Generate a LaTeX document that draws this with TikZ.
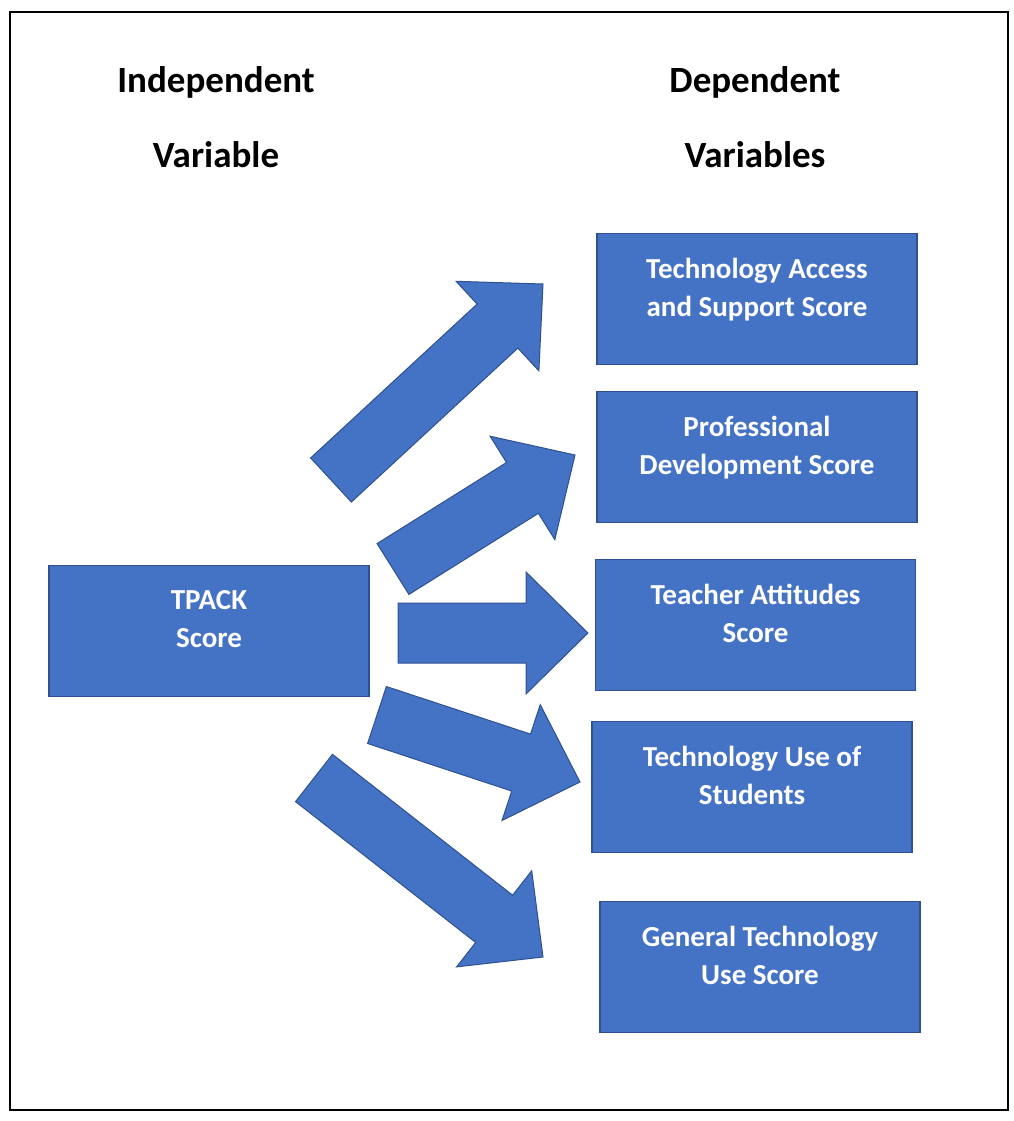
\documentclass[tikz,border=0pt]{standalone}
\usepackage{fontspec}
\setmainfont{Carlito}
\usetikzlibrary{calc}
\definecolor{boxblue}{HTML}{4472C4}
\definecolor{edgeblue}{HTML}{2F528F}
\newcommand\blockarr[2]{%
  \coordinate (#1b) at ($(#2)!62pt!(#1)$);
  \draw[blockarrow] ($(#1)!30pt!90:(#2)$) -- ($(#1b)!30pt!90:(#2)$) -- ($(#1b)!61pt!90:(#2)$)
    -- (#2) -- ($(#1b)!61pt!-90:(#2)$) -- ($(#1b)!30pt!-90:(#2)$) -- ($(#1)!30pt!-90:(#2)$) -- cycle;}
\begin{document}
\begin{tikzpicture}[x=1pt,y=-1pt,
  box/.style={draw=edgeblue, fill=boxblue, line width=1.2pt, inner sep=0pt, minimum width=320pt, minimum height=131pt},
  boxtext/.style={anchor=north, inner sep=0pt, align=center, text=white, font=\fontsize{29}{38.5}\selectfont\bfseries},
  headtext/.style={anchor=base, inner sep=0pt, font=\fontsize{37}{40}\selectfont\bfseries},
  blockarrow/.style={draw=edgeblue, fill=boxblue, line width=1pt, line join=miter}]
\useasboundingbox (0,0) rectangle (1013,1121);
\draw[line width=1.5pt] (10,12) rectangle (1008,1110);

% headings
\node[headtext] (ind1) at (216,93) {Independent};
\node[headtext] (ind2) at (216,167) {Variable};
\node[headtext] (dep1) at (755,93) {Dependent};
\node[headtext] (dep2) at (755,167) {Variables};

% boxes
\node[box] (tpack) at (209,631) {};
\node[box] (b1) at (757,299) {};
\node[box] (b2) at (757,457) {};
\node[box] (b3) at (755.5,625) {};
\node[box] (b4) at (752,787) {};
\node[box] (b5) at (760,967) {};

\node[boxtext] (tpackt) at ($(tpack.north)+(0,25)$) {TPACK\\Score};
\node[boxtext] (b1t) at ($(b1.north)+(0,25)$) {Technology Access\\and Support Score};
\node[boxtext] (b2t) at ($(b2.north)+(0,25)$) {Professional\\Development Score};
\node[boxtext] (b3t) at ($(b3.north)+(0,25)$) {Teacher Attitudes\\Score};
\node[boxtext] (b4t) at ($(b4.north)+(0,25)$) {Technology Use of\\Students};
\node[boxtext] (b5t) at ($(b5.north)+(0,25)$) {General Technology\\Use Score};

% block arrows
\coordinate (t1) at (331,480); \coordinate (h1) at (543,284);
\coordinate (t2) at (393,569); \coordinate (h2) at (575,455);
\coordinate (t3) at (398,633); \coordinate (h3) at (588,633);
\coordinate (t4) at (377,715); \coordinate (h4) at (580,782);
\coordinate (t5) at (314,778); \coordinate (h5) at (543,957);
\blockarr{t1}{h1}
\blockarr{t2}{h2}
\blockarr{t3}{h3}
\blockarr{t4}{h4}
\blockarr{t5}{h5}
\end{tikzpicture}
\end{document}
